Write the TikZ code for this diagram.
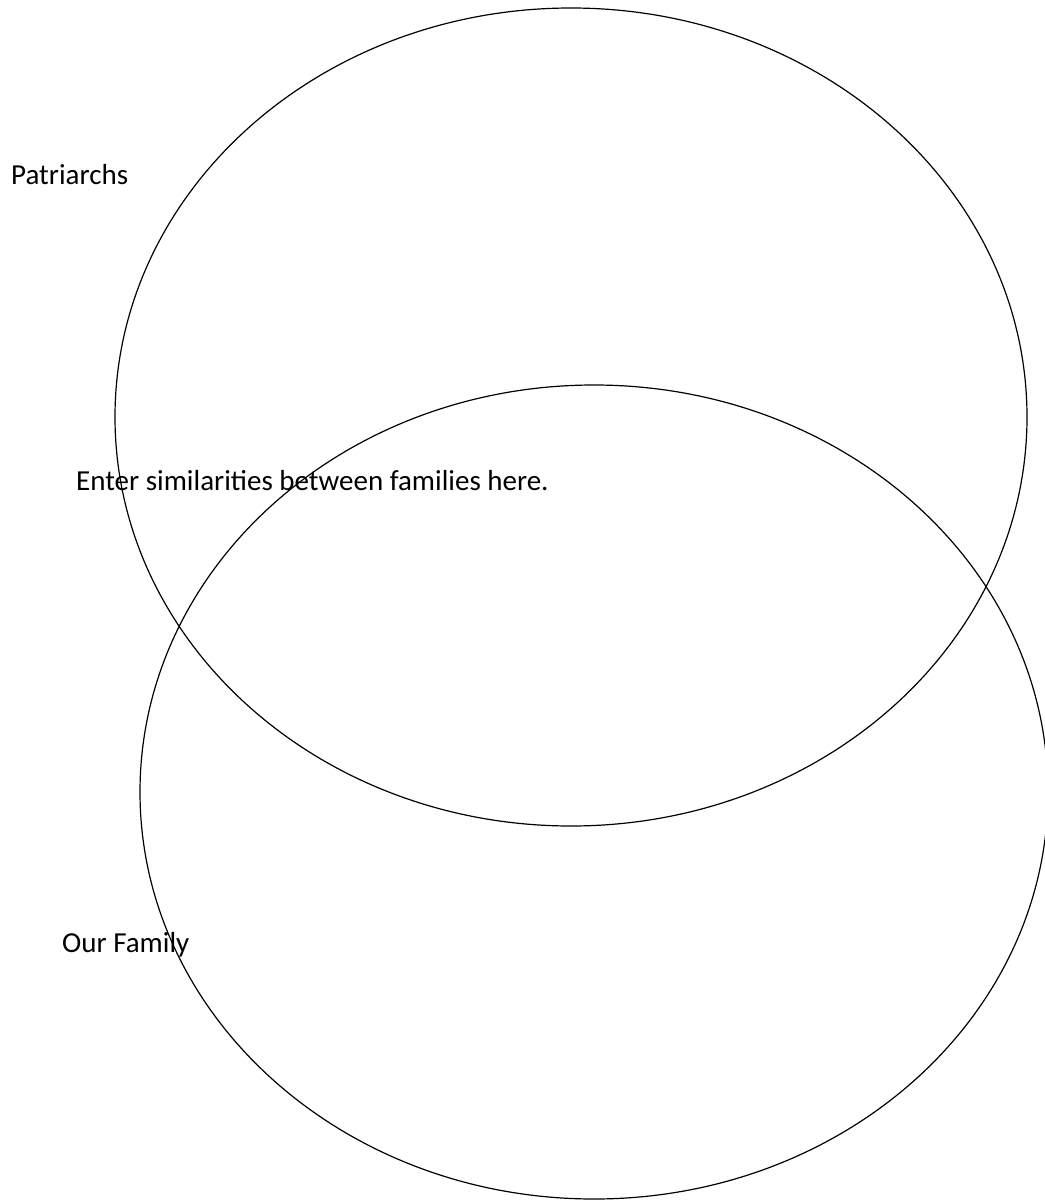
\documentclass[tikz,border=0pt]{standalone}
\usepackage{fontspec}
\setmainfont{Carlito}
\usetikzlibrary{shapes.geometric}
\begin{document}
\begin{tikzpicture}[x=1pt,y=1pt,
  setring/.style={draw=black, line width=1.2pt, ellipse, inner sep=0pt},
  label/.style={anchor=base west, inner sep=0pt, font=\fontsize{29}{35}\selectfont}]
  \useasboundingbox (0,0) rectangle (1044,-1201);
  % the two overlapping sets
  \node[setring, minimum width=912pt, minimum height=818pt] (upper) at (571,-417) {};
  \node[setring, minimum width=908pt, minimum height=814pt] (lower) at (594,-792) {};
  % labels
  \node[label] (patriarchs) at (11,-185) {Patriarchs};
  \node[label] (similar) at (76,-490) {Enter similarities between families here.};
  \node[label] (ours) at (62,-952) {Our Family};
\end{tikzpicture}
\end{document}
